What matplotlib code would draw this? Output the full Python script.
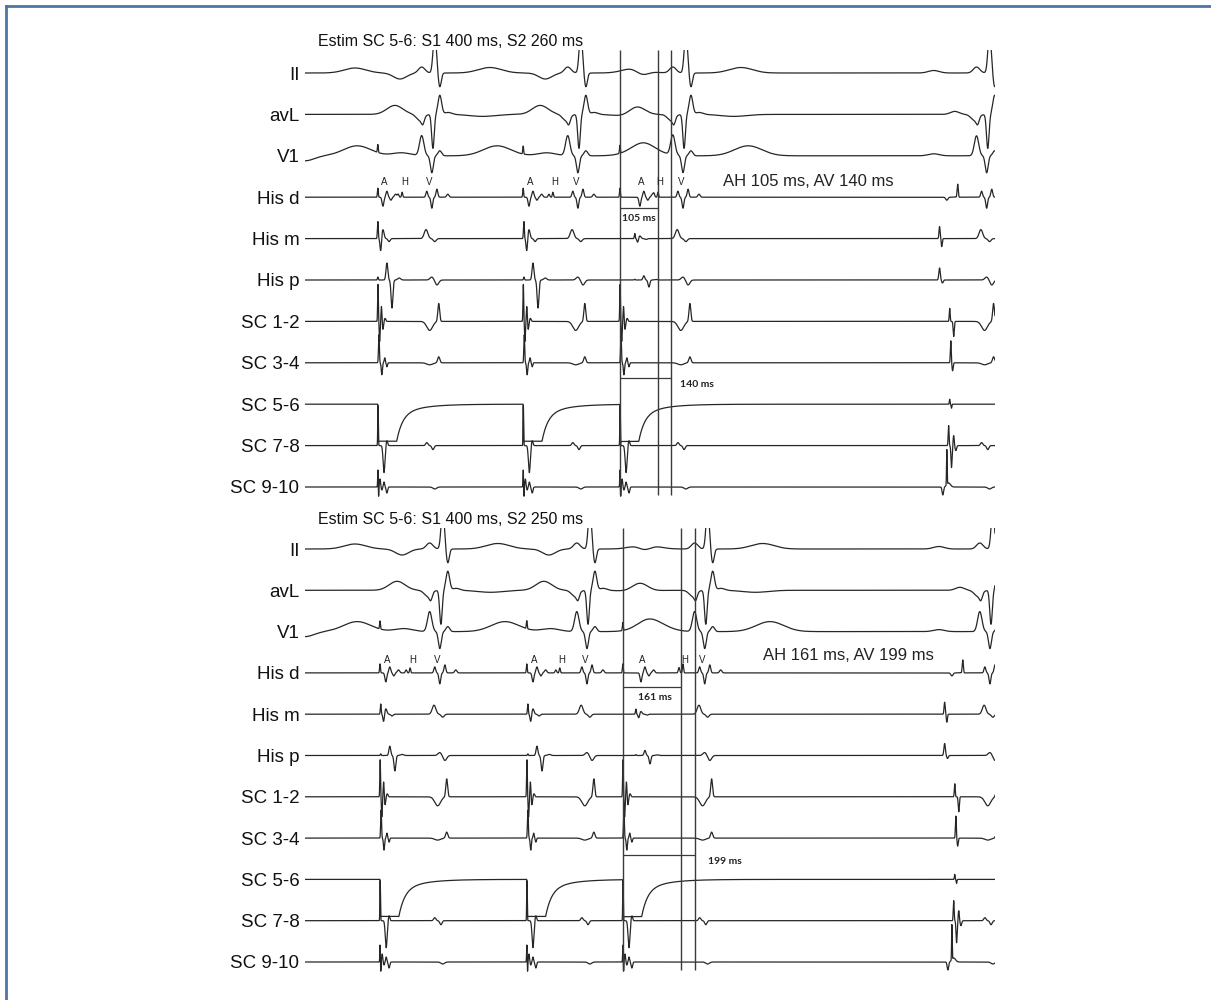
import numpy as np
import matplotlib
matplotlib.use("Agg")
import matplotlib.pyplot as plt
from matplotlib.lines import Line2D

plt.rcParams['font.family'] = ['Liberation Sans', 'DejaVu Sans']

# ---------------- data ----------------
CHANNELS = ["II", "avL", "V1", "His d", "His m", "His p",
            "SC 1-2", "SC 3-4", "SC 5-6", "SC 7-8", "SC 9-10"]
PANEL_TITLES = ["Estim SC 5-6: S1 400 ms, S2 260 ms",
                "Estim SC 5-6: S1 400 ms, S2 250 ms"]
AH_MS = [105, 161]
AV_MS = [140, 199]
TRACE_MS = 1904

# event times (ms from trace start), per panel: S1, S1, S2
STIM_MS = [[201, 602, 869], [207, 612, 877]]
A_HIS_MS = [[215, 618, 924], [223, 629, 927]]
H_MS = [[268, 684, 974], [290, 703, 1043]]
V_MS = [[350, 753, 1043], [372, 778, 1103]]
# spontaneous beat at the end
SPONT_A_MS = [1779, 1793]
SPONT_V_MS = [1881, 1890]

# per-panel, per-beat scale of atrial / His signals on the His channels
A_SCALE = {"His m": [[1.0, 1.0, 0.3], [0.6, 0.6, 0.3]],
           "His p": [[1.0, 1.0, 0.25], [0.55, 0.55, 0.3]]}
H_SCALE = {"His d": [[1.0, 1.0, 1.0], [1.0, 1.0, 1.8]]}

# wave components: (offset ms, amplitude, width ms); amplitude in px-like units
WAVES_PRE = {
    "II": [(138, 5, 30)],
    "V1": [(0, -5, 25), (144, 10, 38)],
}
WAVES_STIM = {
    "II": [(61, -6, 18)],
    "avL": [(47, 9, 22)],
    "V1": [(0, 8, 1.2), (65, 3, 25)],
    "His d": [(0, 9, 1.2)],
    "SC 1-2": [(0.5, 37, 1.0), (5, -20, 1.2), (10, 15, 1.2), (14, -8, 1.5), (20, 3, 2)],
    "SC 3-4": [(3, 28, 1.2), (11, -12, 1.5), (19, 5, 1.5), (25, -4, 1.5)],
    "SC 7-8": [(0.5, 40, 0.8), (17, -27, 2.5), (25, 5, 2)],
    "SC 9-10": [(0.3, 18, 0.8), (2, -11, 0.8), (6, 8, 1.5), (11, -3, 1.5),
                (17, 5, 1.5), (25, -6, 2)],
}
WAVES_A = {
    "His d": [(0, -9, 2.5), (11, 6, 2.5), (22, -3, 2.5), (35, 3, 3)],
    "His m": [(-14, 17, 1.2), (-6, -13, 2), (0, 9, 3), (17, -3, 3)],
    "His p": [(-14, 3, 1.2), (11, 17, 2.5), (25, -28, 2.5), (45, 2, 4)],
}
WAVES_H = {
    "His d": [(-11, 3, 2), (0, 5, 1.5)],
}
WAVES_V = {
    "II": [(-28, 6, 9), (8, 40, 4.5), (22, -14, 4), (160, 5.5, 32)],
    "avL": [(-33, -6, 10), (-25, -6, 4), (3, -34, 3.5), (22, 19, 5), (45, 2, 10), (140, -2, 35)],
    "V1": [(-28, 20, 6), (0, -17, 4), (22, 5, 5), (180, 10, 38)],
    "His d": [(-14, 6, 2.5), (0, -11, 2.5), (14, 8, 2.5), (44, 3, 3)],
    "His m": [(-16, 9, 5), (8, -3, 4)],
    "His p": [(0, 3, 5), (14, -5, 5)],
    "SC 1-2": [(-6, -9, 8), (19, 18, 2.5)],
    "SC 3-4": [(-6, -2, 8), (19, 6, 3)],
    "SC 7-8": [(-14, 3, 3), (3, -4, 3)],
    "SC 9-10": [(8, -2, 5)],
}
WAVES_SPONT_A = {
    "II": [(-44, 2.5, 15)],
    "avL": [(14, 3, 12)],
    "V1": [(-44, 2, 15)],
    "His d": [(-8, -3, 3), (22, 13, 1.5)],
    "His m": [(-28, 12, 1.5), (-22, -8, 1.5)],
    "His p": [(-28, 12, 2), (-20, -3, 2)],
    "SC 1-2": [(0, 13, 1.2), (11, -15, 1.5)],
    "SC 3-4": [(3, 22, 1.2), (8, -8, 1.5)],
    "SC 5-6": [(0, 5, 1), (5, -4, 1)],
    "SC 7-8": [(-3, 20, 1.2), (5, -22, 1.5), (11, 10, 1.5), (17, -5, 2)],
    "SC 9-10": [(-19, -8, 2), (-8, 35, 0.8), (-3, 4, 5)],
}
# stimulation pulse recorded on the pacing bipole
STIM_PULSE = {"channel": "SC 5-6", "depth": 37, "flat_ms": 52,
              "tau_fast": 16, "tau_slow": 60, "frac_fast": 0.7}

# ---------------- layout / style ----------------
FIG_W, FIG_H = 1211, 1000
PANELS_PX = [dict(top=50, bottom=497, first=73, spacing=41.4),
             dict(top=528, bottom=978, first=549, spacing=41.3)]
LEFT_PX, RIGHT_PX = 305, 995
TRACE_COLOR = "#262626"
LINE_COLOR = "#3a3a3a"


def gauss(t, t0, a, s):
    return a * np.exp(-0.5 * ((t - t0) / s) ** 2)


def build_trace(p, ch, t):
    y = np.zeros_like(t)
    nb = len(STIM_MS[p])
    for off, a, s in WAVES_PRE.get(ch, []):
        y += gauss(t, off, a, s)
    for s0 in STIM_MS[p]:
        for off, a, s in WAVES_STIM.get(ch, []):
            y += gauss(t, s0 + off, a, s)
    a_sc = A_SCALE[ch][p] if ch in A_SCALE else [1.0] * nb
    for b, a0 in enumerate(A_HIS_MS[p]):
        for off, a, s in WAVES_A.get(ch, []):
            y += a_sc[b] * gauss(t, a0 + off, a, s)
    h_sc = H_SCALE[ch][p] if ch in H_SCALE else [1.0] * nb
    for b, h0 in enumerate(H_MS[p]):
        for off, a, s in WAVES_H.get(ch, []):
            y += h_sc[b] * gauss(t, h0 + off, a, s)
    for v0 in V_MS[p] + [SPONT_V_MS[p]]:
        for off, a, s in WAVES_V.get(ch, []):
            y += gauss(t, v0 + off, a, s)
    for off, a, s in WAVES_SPONT_A.get(ch, []):
        y += gauss(t, SPONT_A_MS[p] + off, a, s)
    if ch == STIM_PULSE["channel"]:
        for s0 in STIM_MS[p]:
            d = STIM_PULSE["depth"]
            fl = STIM_PULSE["flat_ms"]
            on = (t >= s0) & (t < s0 + fl)
            y[on] -= d
            rec = t >= s0 + fl
            tt = t[rec] - (s0 + fl)
            ff = STIM_PULSE["frac_fast"]
            y[rec] -= d * (ff * np.exp(-tt / STIM_PULSE["tau_fast"]) +
                           (1 - ff) * np.exp(-tt / STIM_PULSE["tau_slow"]))
    return y


fig = plt.figure(figsize=(FIG_W / 100, FIG_H / 100), dpi=100)
ms_per_px = TRACE_MS / (RIGHT_PX - LEFT_PX)
t = np.arange(0, TRACE_MS, 0.25)

for p, geo in enumerate(PANELS_PX):
    sp = geo["spacing"]
    ytop = (geo["first"] - geo["top"]) / sp
    ybot = -(geo["bottom"] - geo["first"]) / sp
    ax = fig.add_axes([LEFT_PX / FIG_W, 1 - geo["bottom"] / FIG_H,
                       (RIGHT_PX - LEFT_PX) / FIG_W, (geo["bottom"] - geo["top"]) / FIG_H])
    ax.set_xlim(0, TRACE_MS)
    ax.set_ylim(ybot, ytop)
    for i, ch in enumerate(CHANNELS):
        y = build_trace(p, ch, t)
        ax.plot(t, -i + y / sp, color=TRACE_COLOR, lw=0.9)
    ax.set_yticks([-i for i in range(len(CHANNELS))])
    ax.set_yticklabels(CHANNELS, fontsize=13.5, color="#111111")
    ax.tick_params(axis="y", length=0, pad=4)
    ax.set_xticks([])
    for s in ax.spines.values():
        s.set_visible(False)

    # vertical measurement lines
    s2 = STIM_MS[p][-1]
    ybottom_line = -(10 + 0.19)
    for xv in (s2, s2 + AH_MS[p], s2 + AV_MS[p]):
        ax.vlines(xv, ybottom_line, ytop, color=LINE_COLOR, lw=1.0)

    # brackets
    ah_y = -3.26 if p == 0 else -3.34
    av_y = -7.37 if p == 0 else -7.41
    ax.hlines(ah_y, s2, s2 + AH_MS[p], color=LINE_COLOR, lw=0.9)
    ax.hlines(av_y, s2, s2 + AV_MS[p], color=LINE_COLOR, lw=0.9)
    ax.text(s2 + AH_MS[p] / 2 + (0 if p == 0 else 8), ah_y - 0.25,
            f"{AH_MS[p]} ms", fontsize=7.5, fontweight="bold", family=["Lato", "DejaVu Sans"],
            ha="center", va="center", color="#222222")
    ax.text(s2 + AV_MS[p] + (25 if p == 0 else 36), av_y - 0.15,
            f"{AV_MS[p]} ms", fontsize=7.5, fontweight="bold", family=["Lato", "DejaVu Sans"],
            ha="left", va="center", color="#222222")

    # A / H / V letters above His d
    ly = -2.63 if p == 0 else -2.69
    for b in range(3):
        for lab, x0 in (("A", A_HIS_MS[p][b] + 4), ("H", H_MS[p][b] + 6), ("V", V_MS[p][b] - 6)):
            ax.text(x0, ly, lab, fontsize=7, ha="center", va="center", color="#222222")

    # summary text
    ann_x = (723 - LEFT_PX) * ms_per_px if p == 0 else (763 - LEFT_PX) * ms_per_px
    ax.text(ann_x, -2.61 if p == 0 else -2.59,
            f"AH {AH_MS[p]} ms, AV {AV_MS[p]} ms", fontsize=12, ha="left", va="center",
            color="#222222")

    # panel title
    title_px_y = 41 if p == 0 else 519
    ax.text((318 - LEFT_PX) * ms_per_px, (geo["first"] - title_px_y) / sp, PANEL_TITLES[p],
            fontsize=11.5, ha="left", va="center", clip_on=False, color="#111111")

# figure border (left and top edges)
fig.add_artist(Line2D([6 / FIG_W, 6 / FIG_W], [0, 1 - 6 / FIG_H],
                      transform=fig.transFigure, color="#4e74a6", lw=2))
fig.add_artist(Line2D([6 / FIG_W, 1], [1 - 6 / FIG_H, 1 - 6 / FIG_H],
                      transform=fig.transFigure, color="#4e74a6", lw=2))

fig.savefig("out.png", dpi=100, facecolor="white")
